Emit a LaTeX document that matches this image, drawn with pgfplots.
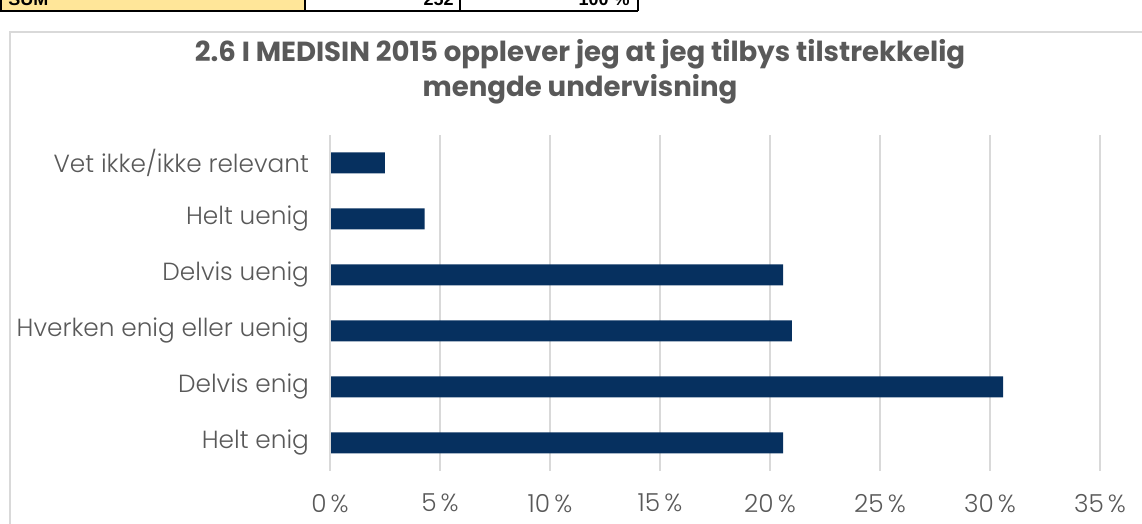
\documentclass[border=0pt]{standalone}
\usepackage{pgfplots}
\pgfplotsset{compat=1.18}
\usepackage{fontspec}
\setmainfont{Poppins}
\newfontfamily\lightfont{Poppins}[UprightFont={* Light}]
\newfontfamily\arialfont{Liberation Sans}
\definecolor{barblue}{HTML}{06305F}
\definecolor{txtgray}{HTML}{595959}
\definecolor{gridgray}{HTML}{D9D9D9}
\definecolor{cellyellow}{HTML}{FFE699}
\begin{document}
\begin{tikzpicture}
\useasboundingbox (0,0) rectangle (571pt,262pt);
\clip (0,0) rectangle (571pt,262pt);
% spreadsheet fragment at top
\fill[cellyellow] (0,256.5pt) rectangle (152.5pt,263pt);
\draw[black,line width=1pt] (0,256.5pt) -- (319pt,256.5pt);
\draw[black,line width=1pt] (0.5pt,256.5pt) -- (0.5pt,263pt);
\draw[black,line width=1pt] (152.5pt,256.5pt) -- (152.5pt,263pt);
\draw[black,line width=1pt] (230pt,256.5pt) -- (230pt,263pt);
\draw[black,line width=1pt] (319pt,256.5pt) -- (319pt,263pt);
\node[anchor=base west,font=\arialfont\bfseries\small,inner sep=0] at (4pt,259pt) {SUM};
\node[anchor=base east,font=\arialfont\bfseries\small,inner sep=0] at (227pt,259pt) {252};
\node[anchor=base east,font=\arialfont\bfseries\small,inner sep=0] at (315pt,259pt) {100 \%};
% chart frame
\draw[gridgray,line width=0.8pt] (5pt,-5pt) rectangle (580pt,246pt);
% title
\node[font=\bfseries\fontsize{13.8}{17.5}\selectfont,text=txtgray,align=center] at (290pt,226pt)
  {2.6 I MEDISIN 2015 opplever jeg at jeg tilbys tilstrekkelig\\mengde undervisning};
\begin{axis}[
  at={(165pt,26.5pt)}, anchor=south west,
  width=385pt, height=168pt, scale only axis,
  xbar, bar width=10.5pt,
  xmin=0, xmax=35, ymin=-0.5, ymax=5.5,
  xtick={0,5,...,35},
  xticklabel={\pgfmathprintnumber{\tick}\,\%},
  ytick={0,1,2,3,4,5},
  yticklabels={Helt enig,Delvis enig,Hverken enig eller uenig,Delvis uenig,Helt uenig,Vet ikke/ikke relevant},
  axis line style={draw=none},
  axis x line*=bottom, axis y line*=left,
  major tick length=0pt,
  xmajorgrids, grid style={gridgray,line width=0.8pt},
  tick label style={text=txtgray,font=\lightfont\fontsize{12.4}{14}\selectfont},
  xticklabel style={yshift=-8pt},
  yticklabel style={xshift=-7pt},
  /pgf/number format/assume math mode=true,
  clip=false,
]
\addplot[fill=barblue,draw=none] coordinates {
  (20.6,0) (30.6,1) (21.0,2) (20.6,3) (4.3,4) (2.5,5)
};
\draw[gridgray,line width=0.8pt] (axis cs:0,-0.5) -- (axis cs:0,5.5);
\end{axis}
\end{tikzpicture}
\end{document}
